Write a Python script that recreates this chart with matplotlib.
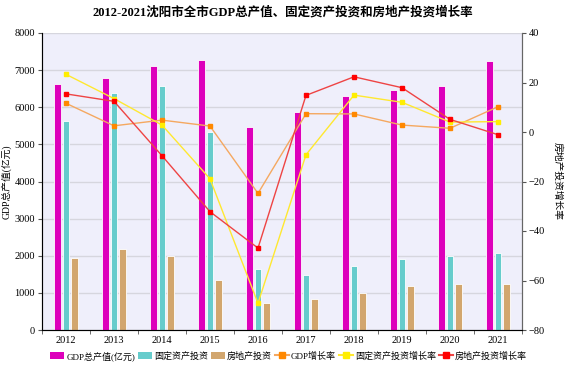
import matplotlib
matplotlib.use("Agg")
import matplotlib.pyplot as plt
import numpy as np
from matplotlib.lines import Line2D
from matplotlib.patches import Patch

years = ["2012", "2013", "2014", "2015", "2016", "2017", "2018", "2019", "2020", "2021"]
gdp = [6620, 6775, 7100, 7280, 5465, 5885, 6300, 6475, 6575, 7250]
fixed_inv = [5630, 6390, 6570, 5330, 1645, 1490, 1715, 1920, 1995, 2085]
real_estate_inv = [1950, 2190, 1995, 1355, 730, 835, 1005, 1185, 1245, 1240]
gdp_growth = [11.6, 2.5, 4.8, 2.4, -24.8, 7.4, 7.3, 2.8, 1.5, 10.2]
fixed_growth = [23.3, 13.5, 2.8, -18.9, -69.2, -9.2, 14.9, 12.0, 4.0, 4.2]
re_growth = [15.4, 12.4, -9.6, -32.2, -46.9, 14.8, 22.3, 17.9, 5.1, -1.1]

FONT = ["Liberation Serif", "Noto Sans CJK SC", "DejaVu Sans"]
plt.rcParams["font.family"] = FONT

fig = plt.figure(figsize=(5.66, 3.67), dpi=100)
ax = fig.add_axes([42/566, 1-330/367, 480/566, 297/367])
ax.set_facecolor("#EFEFFB")
x = np.arange(len(years))
w = 0.145
off = 0.175
ax.bar(x - off, gdp, w, color="#DD00BB", edgecolor="white", linewidth=0.6, zorder=2)
ax.bar(x, fixed_inv, w, color="#66CCCC", edgecolor="white", linewidth=0.6, zorder=2)
ax.bar(x + off, real_estate_inv, w, color="#D2A66E", edgecolor="white", linewidth=0.6, zorder=2)

ax.set_xlim(-0.5, len(years) - 0.5)
ax.set_ylim(0, 8000)
ax.set_yticks(range(0, 8001, 1000))
ax.yaxis.grid(True, color="#D6D6DE", linewidth=1.0, zorder=0)
ax.set_axisbelow(True)
ax.set_xticks(x)
ax.set_xticklabels(years, fontsize=7.5)
ax.set_xticks(np.arange(-0.5, len(years), 1), minor=True)
ax.tick_params(axis="x", which="major", length=0, pad=4)
ax.tick_params(axis="x", which="minor", length=3, color="#555555")
ax.tick_params(axis="y", labelsize=7.5, length=3, color="#555555", pad=2)
for s in ["top"]:
    ax.spines[s].set_visible(False)
for s in ["left", "bottom", "right"]:
    ax.spines[s].set_color("#666666")
ax.set_ylabel("GDP总产值(亿元)", fontsize=7, labelpad=2)

ax2 = ax.twinx()
ax2.set_ylim(-80, 40)
ax2.set_yticks(range(-80, 41, 20))
ax2.tick_params(axis="y", labelsize=7.5, length=3, color="#555555", pad=2)
ax2.spines["top"].set_visible(False)
ax2.spines["right"].set_color("#666666")
ax2.plot(x, gdp_growth, color="#F5A860", linewidth=1.0, marker="s", markersize=3.5,
         markerfacecolor="#FF8800", markeredgecolor="#FF8800", zorder=3)
ax2.plot(x, fixed_growth, color="#FFE830", linewidth=1.0, marker="s", markersize=3.5,
         markerfacecolor="#FFEE00", markeredgecolor="#FFEE00", zorder=3)
ax2.plot(x, re_growth, color="#EE4444", linewidth=1.0, marker="s", markersize=3.5,
         markerfacecolor="#FF0000", markeredgecolor="#FF0000", zorder=4)
ax2.set_ylabel("房地产投资增长率", fontsize=7, rotation=270, labelpad=12)

fig.suptitle("2012-2021沈阳市全市GDP总产值、固定资产投资和房地产投资增长率",
             fontsize=9, fontweight="bold", y=0.985)

handles = [
    Patch(facecolor="#DD00BB", label="GDP总产值(亿元)"),
    Patch(facecolor="#66CCCC", label="固定资产投资"),
    Patch(facecolor="#D2A66E", label="房地产投资"),
    Line2D([], [], color="#F5A860", marker="s", markersize=4.5, markerfacecolor="#FF8800",
           markeredgecolor="#FF8800", label="GDP增长率"),
    Line2D([], [], color="#FFE830", marker="s", markersize=4.5, markerfacecolor="#FFEE00",
           markeredgecolor="#FFEE00", label="固定资产投资增长率"),
    Line2D([], [], color="#EE4444", marker="s", markersize=4.5, markerfacecolor="#FF0000",
           markeredgecolor="#FF0000", label="房地产投资增长率"),
]
fig.legend(handles=handles, loc="lower center", ncol=6, frameon=False, fontsize=6.5,
           bbox_to_anchor=(0.51, -0.005), handlelength=1.5, handleheight=0.8,
           handletextpad=0.25, columnspacing=0.35)

fig.savefig("out.png", dpi=100)
